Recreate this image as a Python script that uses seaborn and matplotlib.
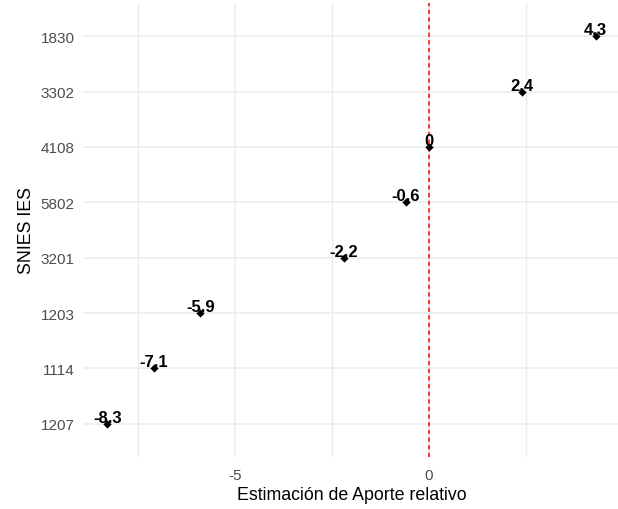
import pandas as pd
import matplotlib.pyplot as plt
import seaborn as sns
from matplotlib.ticker import MultipleLocator

# Datos: IES ordenadas de arriba hacia abajo
ies = ['1830', '3302', '4108', '5802', '3201', '1203', '1114', '1207']
aporte = [4.3, 2.4, 0.0, -0.6, -2.2, -5.9, -7.1, -8.3]
etiquetas = ['4.3', '2.4', '0', '-0.6', '-2.2', '-5.9', '-7.1', '-8.3']

df = pd.DataFrame({'ies': ies, 'aporte': aporte, 'etiqueta': etiquetas})

sns.set_theme(style="whitegrid")
plt.rcParams['font.family'] = ['Liberation Sans', 'DejaVu Sans']
plt.rcParams['axes.unicode_minus'] = False

fig = plt.figure(figsize=(6.18, 5.10), dpi=100)
ax = fig.add_axes([83 / 618, 52 / 510, 537 / 618, 454 / 510])

sns.stripplot(
    data=df,
    x='aporte',
    y='ies',
    order=ies,
    orient='h',
    jitter=False,
    marker='D',
    size=4.2,
    color='black',
    linewidth=0,
    zorder=4,
    ax=ax
)

# Línea de referencia en cero
ax.axvline(0, color='#FF0000', lw=1.1, ls=(0, (2.8, 2.2)), zorder=3)

# Etiquetas de cada punto
for i, row in df.iterrows():
    ax.annotate(row['etiqueta'], (row['aporte'], i), xytext=(0, 1.5),
                textcoords='offset points', ha='center', va='baseline',
                fontsize=12, fontweight='bold', color='black', zorder=5)

# Escalas (expansión 5% estilo ggplot)
rango = max(aporte) - min(aporte)
ax.set_xlim(min(aporte) - 0.05 * rango, max(aporte) + 0.05 * rango)
ax.set_ylim(len(ies) - 0.4, -0.6)
ax.xaxis.set_major_locator(MultipleLocator(5))
ax.xaxis.set_minor_locator(MultipleLocator(2.5))

ax.set_facecolor('white')
for s in ax.spines.values():
    s.set_visible(False)
ax.grid(True, which='major', color='#EBEBEB', lw=1.1)
ax.grid(True, which='minor', axis='x', color='#EBEBEB', lw=1.0)
ax.set_axisbelow(True)
ax.tick_params(axis='both', which='both', length=0, labelsize=11, labelcolor='#4D4D4D')
ax.tick_params(axis='x', pad=8)
ax.tick_params(axis='y', pad=6)

ax.set_xlabel('Estimación de Aporte relativo', fontsize=12.8, color='black', labelpad=3)
ax.set_ylabel('SNIES IES', fontsize=12.8, color='black', labelpad=4)

plt.savefig('out.png', dpi=100)
plt.close()
